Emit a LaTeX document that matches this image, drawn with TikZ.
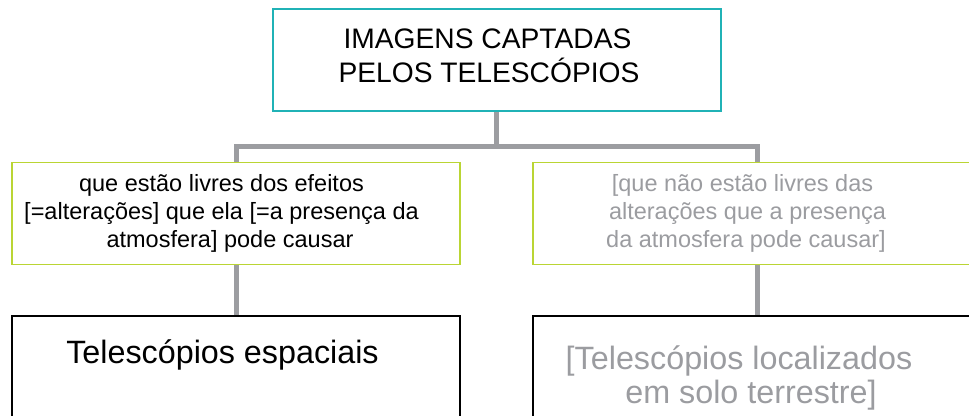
\documentclass[tikz,border=0pt]{standalone}
\usepackage{fontspec}
\setmainfont{Liberation Sans}
\usepackage{tikz}

\definecolor{turquesa}{RGB}{32,178,182}
\definecolor{verdelima}{RGB}{186,213,52}
\definecolor{cinza}{RGB}{156,157,161}
\definecolor{cinzatexto}{RGB}{155,156,160}

\begin{document}
\begin{tikzpicture}[x=1pt, y=-1pt,
    caixa/.style={draw, minimum width=448pt, align=center, inner sep=0pt},
    tronco/.style={draw=cinza, line width=5pt}]
    \clip (0,0) rectangle (969,415);

    \path 
    node[caixa, draw=turquesa, line width=2pt, minimum height=102pt, text depth=8pt,
      font=\fontsize{28.2}{34}\selectfont] (imagens) at (496.5,60)
      {IMAGENS CAPTADAS\kern18pt\\PELOS TELESCÓPIOS\kern15pt}
    node[caixa, draw=verdelima, line width=1.8pt, minimum height=102pt,
      font=\fontsize{23.5}{28}\selectfont] (livres) at (236,213.5)
      {que estão livres dos efeitos\kern29pt\\{}[=alterações] que ela [=a presença da\kern29pt\\atmosfera] pode causar\kern12pt}
    node[caixa, draw=verdelima, line width=1.8pt, minimum height=102pt, text=cinzatexto,
      font=\fontsize{23.5}{28}\selectfont] (naolivres) at (757,213.5)
      {[que não estão livres das\kern29pt\\alterações que a presença\kern19pt\\da atmosfera pode causar]\kern22pt}
    node[caixa, draw=black, line width=1.5pt, anchor=north, text height=48pt, text depth=80pt,
      font=\fontsize{32.3}{34}\selectfont] (espaciais) at (236,315)
      {Telescópios espaciais\kern27pt}
    node[caixa, draw=black, line width=1.5pt, anchor=north, text height=88pt, text depth=60pt, text=cinzatexto,
      font=\fontsize{32.3}{34}\selectfont] (terrestres) at (757,315)
      {[Telescópios localizados\kern36pt\\em solo terrestre]\kern12pt};

    \draw[tronco] (imagens.south) -- ++(0,34) coordinate (juncao);
    \draw[tronco] (livres.north) |- (juncao) -| (naolivres.north);
    \draw[tronco] (livres.south) -- (espaciais.north);
    \draw[tronco] (naolivres.south) -- (terrestres.north);
\end{tikzpicture}
\end{document}
